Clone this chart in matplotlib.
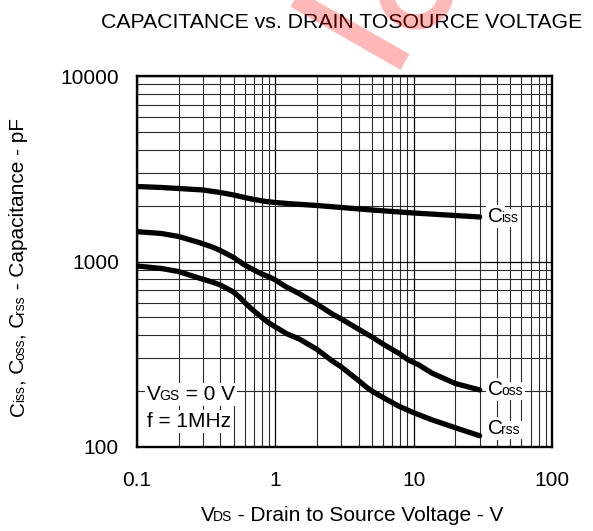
import matplotlib
matplotlib.use('Agg')
import matplotlib.pyplot as plt
from matplotlib.ticker import LogLocator, NullFormatter, FixedLocator, FixedFormatter
from matplotlib.transforms import IdentityTransform
from matplotlib.lines import Line2D
from matplotlib.patches import Circle

plt.rcParams['font.family'] = ['Liberation Sans', 'DejaVu Sans']

# ---- data ----
vds_ciss = [0.1, 0.15, 0.2, 0.3, 0.4, 0.5, 0.6, 0.7, 0.86, 1.0, 1.3, 2.0, 3.0, 5.0,
            10.0, 20.0, 30.0]
ciss = [2537, 2506, 2475, 2429, 2355, 2283, 2213, 2159, 2106, 2080, 2047, 2004, 1955,
        1895, 1826, 1770, 1738]

vds_coss = [0.1, 0.15, 0.2, 0.284, 0.35, 0.4, 0.5, 0.6, 0.7, 0.8, 0.906, 1.0, 1.2, 1.49,
            1.96, 2.58, 3.0, 4.49, 5.0, 6.0, 7.8, 9.2, 10.9, 13.6, 20.0, 30.0]
coss = [1448, 1416, 1364, 1263, 1197, 1147, 1051, 957, 900, 856, 825, 795, 729, 671,
        595, 521, 490, 410, 392, 359, 320, 294, 277, 250, 220, 203]

vds_crss = [0.1, 0.15, 0.2, 0.284, 0.35, 0.4, 0.493, 0.55, 0.6, 0.7, 0.8, 0.9, 1.0, 1.2,
            1.49, 2.0, 2.58, 3.0, 4.0, 4.49, 5.0, 6.0, 7.8, 10.0, 13.6, 20.0, 30.0]
crss = [946, 917, 883, 812, 775, 747, 688, 644, 601, 541, 499, 466, 444, 409,
        382, 336, 291, 270, 228, 212, 200, 185, 166, 153, 140, 127, 115]

x_ticks = [0.1, 1, 10, 100]
x_ticklabels = ['0.1', '1', '10', '100']
y_ticks = [100, 1000, 10000]
y_ticklabels = ['100', '1000', '10000']

title = 'CAPACITANCE vs. DRAIN TOSOURCE VOLTAGE'

W, H = 593, 531
fig = plt.figure(figsize=(W / 100, H / 100), dpi=100)

L, R, T, B = 137, 552, 76, 447
ax = fig.add_axes([L / W, 1 - B / H, (R - L) / W, (B - T) / H])
ax.set_xscale('log')
ax.set_yscale('log')
ax.set_xlim(0.1, 100)
ax.set_ylim(100, 10000)

ax.xaxis.set_major_locator(FixedLocator(x_ticks))
ax.xaxis.set_major_formatter(FixedFormatter(x_ticklabels))
ax.yaxis.set_major_locator(FixedLocator(y_ticks))
ax.yaxis.set_major_formatter(FixedFormatter(y_ticklabels))
ax.xaxis.set_minor_locator(LogLocator(base=10, subs=range(2, 10)))
ax.yaxis.set_minor_locator(LogLocator(base=10, subs=range(2, 10)))
ax.xaxis.set_minor_formatter(NullFormatter())
ax.yaxis.set_minor_formatter(NullFormatter())

ax.grid(which='major', color='#000000', lw=0.9, zorder=1)
ax.grid(which='minor', color='#2a2a2a', lw=0.8, zorder=1)
ax.set_axisbelow(True)
ax.tick_params(which='both', length=0, labelsize=15)
ax.tick_params(axis='x', pad=17)
ax.tick_params(axis='y', pad=13)
for s in ax.spines.values():
    s.set_linewidth(1.7)
    s.set_color('black')
    s.set_zorder(6)

for xs, ys in [(vds_ciss, ciss), (vds_coss, coss), (vds_crss, crss)]:
    ax.plot(xs, ys, color='black', lw=3.8, solid_capstyle='round',
            solid_joinstyle='round', zorder=3)

renderer = fig.canvas.get_renderer()


def text_width(s, fs):
    t = fig.text(0, 0, 'x' + s + 'x', fontsize=fs)
    w1 = t.get_window_extent(renderer=renderer).width
    t.set_text('xx')
    w2 = t.get_window_extent(renderer=renderer).width
    t.remove()
    return w1 - w2


def rich(x, y, pieces, rotation=0, anchor='left', bg=False, zorder=5, kern=-1.5):
    """x, y in pixels from top-left; y is the baseline. Smaller pieces get a
    little negative kerning so they sit close to the preceding letter."""
    widths = [text_width(s, fs) for s, fs in pieces]
    sizes = [fs for _, fs in pieces]
    shifts = [0.0] + [kern if sizes[i] < sizes[i - 1] else 0.0
                      for i in range(1, len(pieces))]
    total = sum(widths) + sum(shifts)
    dx, dy = (1, 0) if rotation == 0 else (0, 1)
    off = 0
    if anchor == 'center':
        off = -total / 2
    elif anchor == 'right':
        off = -total
    X, Y = x, H - y
    pos = off
    for (s, fs), w, sh in zip(pieces, widths, shifts):
        pos += sh
        common = dict(fontsize=fs, transform=IdentityTransform(), rotation=rotation,
                      rotation_mode='anchor', ha='left', va='baseline')
        if bg:
            fig.text(X + dx * pos, Y + dy * pos, s, color='white', zorder=zorder - 0.5,
                     bbox=dict(facecolor='white', edgecolor='none', pad=1.5), **common)
        fig.text(X + dx * pos, Y + dy * pos, s, color='black', zorder=zorder, **common)
        pos += w


BIG, SMALL = 15, 10

rich(342, 28, [(title, 15.3)], anchor='center')
rich(352, 521, [('V', BIG), ('DS', SMALL), (' - Drain to Source Voltage - V', BIG)],
     anchor='center')
rich(24, 267, [('C', BIG), ('iss', SMALL), (', C', BIG), ('oss', SMALL), (', C', BIG),
               ('rss', SMALL), (' - Capacitance - pF', BIG)], rotation=90, anchor='center')

rich(488, 222, [('C', BIG), ('iss', SMALL)], bg=True)
rich(488, 395, [('C', BIG), ('oss', SMALL)], bg=True)
rich(488, 434, [('C', BIG), ('rss', SMALL)], bg=True)
rich(147, 400, [('V', BIG), ('GS', SMALL), (' = 0 V', BIG)], bg=True)
rich(147, 427, [('f = 1MHz', BIG)], bg=True)

# faint watermark fragment at the top
wm = (1.0, 0.0, 0.0, 0.28)
fig.add_artist(Line2D([288, 405], [H + 5, H - 62], transform=IdentityTransform(),
                      color=wm, lw=13, solid_capstyle='butt', zorder=10))
fig.add_artist(Circle((416, H + 8), 30, transform=IdentityTransform(), fill=False,
                      edgecolor=wm, lw=11, zorder=10))

fig.savefig('out.png', dpi=100)
